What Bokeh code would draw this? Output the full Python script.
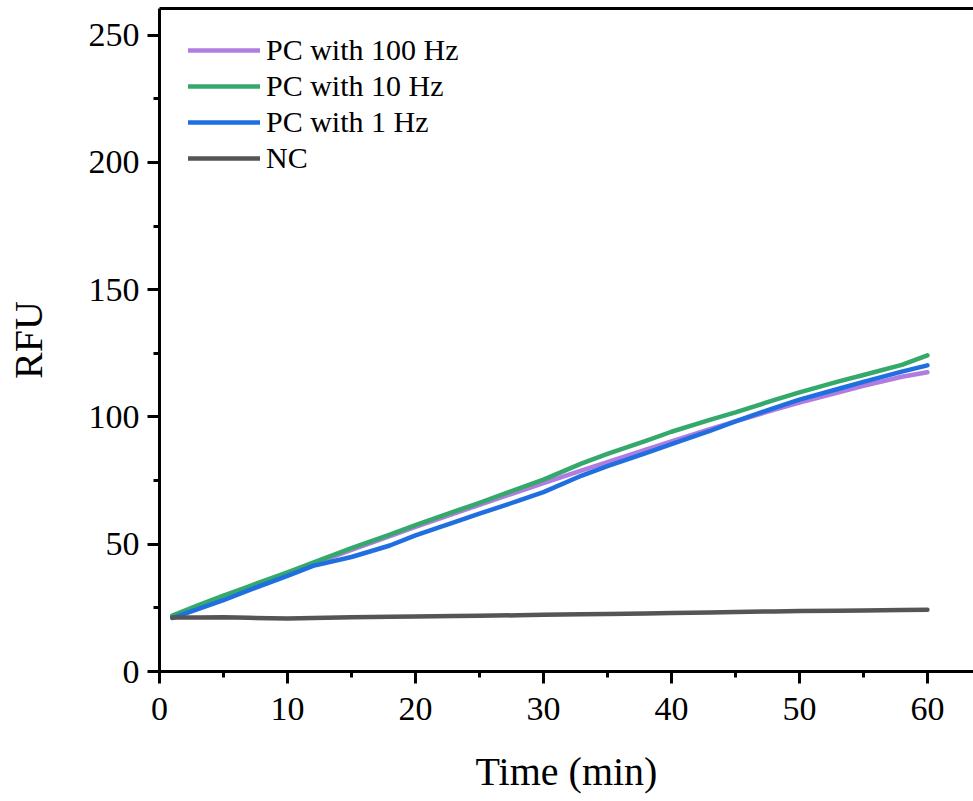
from bokeh.plotting import figure
from bokeh.models import Range1d, LinearAxis, FixedTicker, Legend, LegendItem
from bokeh.embed import file_html
from bokeh.resources import INLINE

time_min = [1, 3, 5, 7, 10, 12, 15, 18, 20, 23, 25, 28, 30, 33, 35, 38, 40, 43, 45, 48, 50, 53, 55, 58, 60]
pc_100hz = [21.7, 25.3, 29.0, 33.0, 38.5, 42.2, 47.8, 53.2, 56.8, 62.0, 65.5, 70.6, 74.0, 79.0, 82.3, 87.2,
            90.4, 95.2, 98.3, 102.8, 105.7, 109.6, 112.2, 115.8, 117.6]
pc_10hz = [22.0, 26.0, 29.8, 33.5, 39.0, 42.8, 48.5, 53.8, 57.5, 62.8, 66.3, 71.8, 75.4, 81.8, 85.5, 90.6,
           94.2, 98.9, 101.8, 106.6, 109.7, 113.9, 116.5, 120.5, 124.2]
pc_1hz = [21.0, 24.5, 28.0, 32.0, 37.6, 41.5, 45.0, 49.5, 53.5, 58.6, 62.0, 67.0, 70.5, 77.0, 80.7, 85.8,
          89.3, 94.5, 98.3, 103.5, 106.8, 111.0, 113.8, 117.8, 120.3]
nc = [21.2, 21.2, 21.3, 21.1, 20.8, 21.0, 21.3, 21.5, 21.6, 21.8, 21.9, 22.1, 22.3, 22.5, 22.6, 22.8,
      23.0, 23.2, 23.4, 23.6, 23.8, 23.9, 24.0, 24.2, 24.3]

x_ticks = [0, 10, 20, 30, 40, 50, 60]
y_ticks = [0, 50, 100, 150, 200, 250]

series_labels = ["PC with 100 Hz", "PC with 10 Hz", "PC with 1 Hz", "NC"]
series_colors = ["#b07ce0", "#35a96b", "#1f6fe0", "#555555"]

FONT = "Liberation Serif"

p = figure(width=973, height=796, output_backend="svg", toolbar_location=None,
           x_range=Range1d(0, 63.6), y_range=Range1d(0, 260.5),
           min_border_left=159, min_border_right=0, min_border_top=8, min_border_bottom=10)
p.grid.visible = False
p.outline_line_color = None
p.background_fill_color = "white"
p.border_fill_color = "white"

for ax in (p.xaxis[0], p.yaxis[0]):
    ax.axis_line_width = 3
    ax.major_tick_line_width = 3
    ax.minor_tick_line_width = 3
    ax.major_tick_in = 0
    ax.major_tick_out = 12
    ax.minor_tick_in = 0
    ax.minor_tick_out = 6
    ax.major_label_text_font = FONT
    ax.major_label_text_font_size = "34px"
    ax.major_label_text_color = "black"
    ax.axis_label_text_font = FONT
    ax.axis_label_text_font_size = "40px"
    ax.axis_label_text_font_style = "normal"
    ax.axis_label_text_color = "black"

p.xaxis[0].ticker = FixedTicker(ticks=x_ticks, minor_ticks=[5, 15, 25, 35, 45, 55])
p.yaxis[0].ticker = FixedTicker(ticks=y_ticks, minor_ticks=[25, 75, 125, 175, 225])
p.xaxis[0].axis_label = "Time (min)"
p.yaxis[0].axis_label = "RFU"
p.xaxis[0].major_label_standoff = 14
p.yaxis[0].major_label_standoff = 8
p.xaxis[0].axis_label_standoff = 26
p.yaxis[0].axis_label_standoff = 35

top = LinearAxis(ticker=FixedTicker(ticks=[]), axis_line_width=3, major_tick_out=0, major_tick_in=0,
                 minor_tick_out=0, minor_tick_in=0, major_label_standoff=0,
                 major_label_text_font_size="0px")
p.add_layout(top, "above")

renderers = []
for ys, col in zip([pc_100hz, pc_10hz, pc_1hz, nc], series_colors):
    r = p.line(time_min, ys, line_color=col, line_width=4.5, line_cap="round", line_join="round")
    renderers.append(r)

legend = Legend(items=[LegendItem(label=l, renderers=[r]) for l, r in zip(series_labels, renderers)],
                location=(29, 496), border_line_color=None, background_fill_alpha=0,
                label_text_font=FONT, label_text_font_size="30px", label_text_color="black",
                glyph_width=72, glyph_height=30, label_height=30, label_standoff=6,
                spacing=2, padding=0, margin=0)
p.add_layout(legend, "center")

open("out.html", "w").write(file_html(p, INLINE))
